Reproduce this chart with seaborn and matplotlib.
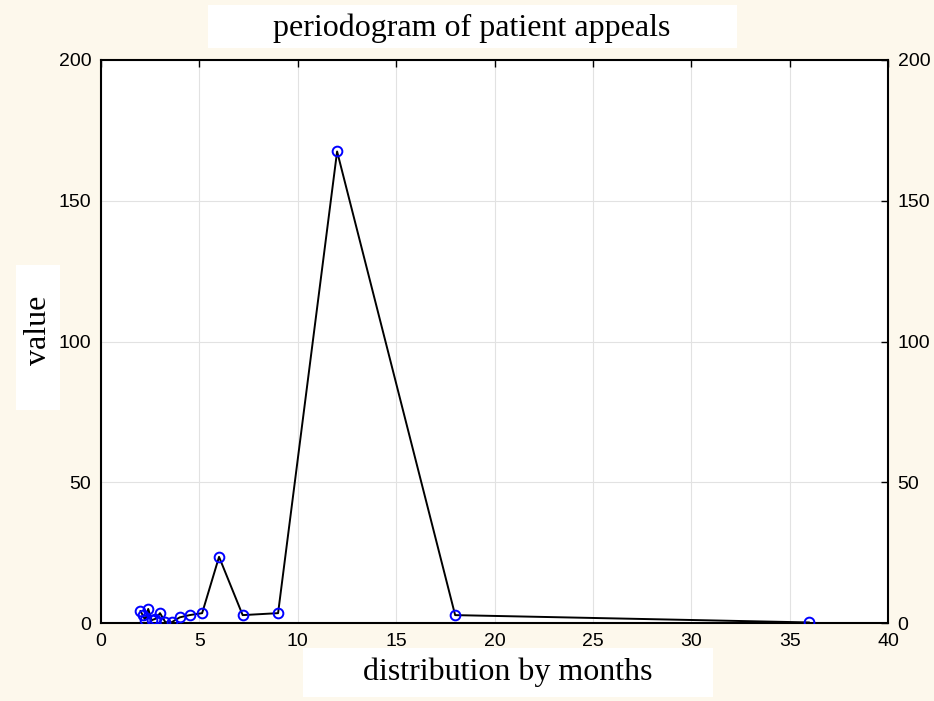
import pandas as pd
import seaborn as sns
import matplotlib.pyplot as plt
from matplotlib.patches import Rectangle

# periods (months) and periodogram values
months = [2.0, 2.12, 2.25, 2.4, 2.57, 2.77, 3.0, 3.27, 3.6, 4.0, 4.5, 5.14,
          6.0, 7.2, 9.0, 12.0, 18.0, 36.0]
values = [4.3, 2.8, 1.0, 5.0, 1.0, 1.5, 3.5, 0.3, 0.3, 2.0, 2.8, 3.5,
          23.5, 2.8, 3.5, 167.5, 2.8, 0.2]

df = pd.DataFrame({"months": months, "value": values})

sns.set_style("white")
plt.rcParams["font.family"] = ["Liberation Sans", "DejaVu Sans"]
plt.rcParams["text.color"] = "black"

bg = "#fdf8ec"
fig = plt.figure(figsize=(9.34, 7.01), dpi=100, facecolor=bg)

# white boxes behind title and axis labels
W, H = 934, 701
for x0, y0, w, h in [(208, 5, 529, 43), (303, 648, 410, 49), (16, 265, 44, 145)]:
    fig.patches.append(Rectangle((x0 / W, 1 - (y0 + h) / H), w / W, h / H,
                                 transform=fig.transFigure, facecolor="white",
                                 edgecolor="none", zorder=0))

ax = fig.add_axes([101 / W, 1 - 623 / H, 787 / W, 563 / H])
ax.set_facecolor("white")

sns.lineplot(data=df, x="months", y="value", ax=ax, color="black", linewidth=1.4,
             marker="o", markersize=7, markerfacecolor="none",
             markeredgecolor="blue", markeredgewidth=1.4, zorder=3)

ax.set_xlim(0, 40)
ax.set_ylim(0, 200)
ax.set_xticks(range(0, 41, 5))
ax.set_yticks(range(0, 201, 50))
ax.grid(True, color="#e2e2e2", linewidth=0.8)
ax.set_axisbelow(True)
for s in ax.spines.values():
    s.set_color("black")
    s.set_linewidth(1.5)
ax.tick_params(direction="in", length=5, width=1, labelsize=14, colors="black",
               top=True, right=True, labelright=True, pad=7)
ax.set_xlabel("")
ax.set_ylabel("")

serif = ["Liberation Serif", "DejaVu Serif"]
fig.text(472 / W, 1 - 28 / H, "periodogram of patient appeals", ha="center",
         va="center", fontsize=23, family=serif, color="black")
fig.text(508 / W, 1 - 672 / H, "distribution by months", ha="center",
         va="center", fontsize=23, family=serif, color="black")
fig.text(38 / W, 1 - 330 / H, "value", ha="center", va="center", rotation=90,
         fontsize=23, family=serif, color="black")

fig.savefig("out.png", dpi=100, facecolor=bg)
